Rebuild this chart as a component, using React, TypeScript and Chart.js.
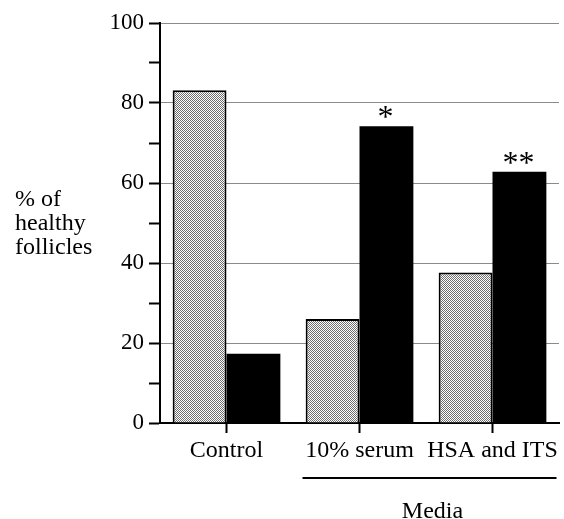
import React, { useEffect, useRef } from "react";
import { Chart, registerables } from "chart.js";

Chart.register(...registerables);

const categories = ["Control", "10% serum", "HSA and ITS"];
const lightValues = [83.2, 26, 37.6];
const darkValues = [17.3, 74.2, 62.8];
const significance = ["", "*", "**"];
const yTitleLines = ["% of", "healthy", "follicles"];
const groupLabel = "Media";
const yMax = 100;
const yStep = 10;
const yLabelEvery = 20;

const SERIF = '"Liberation Serif", "Times New Roman", serif';

function makePattern(): CanvasPattern | string {
  const c = document.createElement("canvas");
  c.width = 2;
  c.height = 2;
  const g = c.getContext("2d");
  if (!g) return "#bbb";
  g.fillStyle = "#ffffff";
  g.fillRect(0, 0, 2, 2);
  g.fillStyle = "#6e6e6e";
  g.fillRect(0, 0, 1, 1);
  g.fillRect(1, 1, 1, 1);
  const p = g.createPattern(c, "repeat");
  return p || "#bbb";
}

const decorPlugin = {
  id: "decor",
  afterDraw(chart: any) {
    const ctx = chart.ctx;
    const x = chart.scales.x;
    ctx.save();
    ctx.fillStyle = "#000";
    ctx.font = `24px ${SERIF}`;
    ctx.textAlign = "left";
    ctx.textBaseline = "alphabetic";
    yTitleLines.forEach((t, i) => ctx.fillText(t, 15, 206 + i * 24));
    const meta = chart.getDatasetMeta(1);
    ctx.font = `32px ${SERIF}`;
    ctx.textAlign = "center";
    meta.data.forEach((bar: any, i: number) => {
      if (significance[i]) ctx.fillText(significance[i], bar.x - 1, bar.y + 1);
    });
    const x1 = x.getPixelForValue(1) - 57;
    const x2 = x.getPixelForValue(2) + 64;
    ctx.strokeStyle = "#000";
    ctx.lineWidth = 2;
    ctx.beginPath();
    ctx.moveTo(x1, 478);
    ctx.lineTo(x2, 478);
    ctx.stroke();
    ctx.font = `24px ${SERIF}`;
    ctx.textAlign = "center";
    ctx.fillText(groupLabel, (x1 + x2) / 2 + 3, 518);
    ctx.restore();
  },
};

export default function App() {
  const ref = useRef<HTMLCanvasElement>(null);
  useEffect(() => {
    if (!ref.current) return;
    const pattern = makePattern();
    const chart = new Chart(ref.current, {
      type: "bar",
      data: {
        labels: categories,
        datasets: [
          {
            data: lightValues,
            backgroundColor: pattern as any,
            borderColor: "#000",
            borderWidth: 2,
            barPercentage: 1,
            categoryPercentage: 0.81,
          },
          {
            data: darkValues,
            backgroundColor: "#000",
            borderColor: "#000",
            borderWidth: 0,
            barPercentage: 1,
            categoryPercentage: 0.81,
          },
        ],
      },
      options: {
        animation: false,
        responsive: false,
        events: [],
        layout: { padding: { top: 23, right: 5, left: 0, bottom: 0 } },
        plugins: { legend: { display: false }, tooltip: { enabled: false } },
        scales: {
          x: {
            offset: true,
            grid: {
              offset: false,
              drawOnChartArea: false,
              drawTicks: true,
              tickLength: 10,
              tickColor: "#000",
              tickWidth: 2,
            },
            border: { color: "#000", width: 2 },
            ticks: {
              color: "#000",
              font: { family: SERIF, size: 24 },
              padding: 3,
              maxRotation: 0,
              autoSkip: false,
            },
            afterFit: (s: any) => {
              s.height = 96;
            },
          },
          y: {
            min: 0,
            max: yMax,
            grid: {
              color: (c: any) =>
                c.tick && c.tick.value % yLabelEvery === 0 && c.tick.value !== 0
                  ? "#8a8a8a"
                  : "rgba(0,0,0,0)",
              lineWidth: 1,
              tickLength: 11,
              tickColor: "#000",
              tickWidth: 2,
            },
            border: { color: "#000", width: 2 },
            ticks: {
              stepSize: yStep,
              color: "#000",
              font: { family: SERIF, size: 23 },
              padding: 5,
              callback: (v: any) => (Number(v) % yLabelEvery === 0 ? String(v) : ""),
            },
            afterFit: (s: any) => {
              s.width = 160;
            },
          },
        },
      },
      plugins: [decorPlugin],
    });
    return () => chart.destroy();
  }, []);
  return (
    <div style={{ position: "fixed", left: 0, top: 0, width: 564, height: 519, background: "#fff" }}>
      <canvas ref={ref} width={564} height={519} style={{ width: 564, height: 519 }} />
    </div>
  );
}
